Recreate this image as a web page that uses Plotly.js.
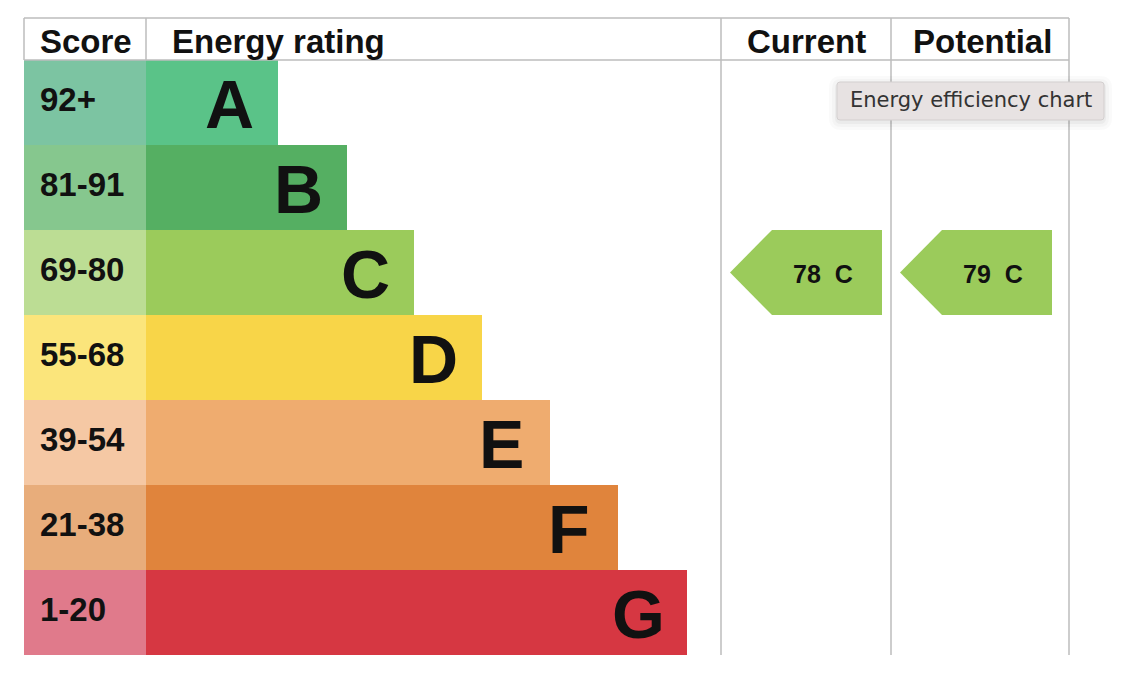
<!DOCTYPE html>
<html>
<head>
<meta charset="utf-8">
<script src="https://cdn.plot.ly/plotly-3.0.1.min.js"></script>
<style>
  html, body { margin: 0; padding: 0; background: #ffffff; }
  #chart { width: 1138px; height: 698px; }
</style>
</head>
<body>
<div id="chart"></div>
<script>
// ---------- data ----------
const ratings = ['A', 'B', 'C', 'D', 'E', 'F', 'G'];
const scoreRanges = ['92+', '81-91', '69-80', '55-68', '39-54', '21-38', '1-20'];
const bandMin = [92, 81, 69, 55, 39, 21, 1];
const bandLengths = [132, 201, 268, 336, 404, 472, 541];
const bandColors = ['#5ac388', '#55af62', '#9bcb5b', '#f8d548', '#efac6f', '#e0843c', '#d63742'];
const scoreColors = ['#7cc4a2', '#86c78e', '#bcdd94', '#fbe57b', '#f5c8a4', '#e8ad7b', '#e07a8b'];
const headers = ['Score', 'Energy rating', 'Current', 'Potential'];
const currentScore = 78;
const potentialScore = 79;
const tooltipText = 'Energy efficiency chart';

// ---------- layout geometry (pixels) ----------
const W = 1138, H = 698;
const ROW0 = 102.5, ROWH = 85;           // centre of first row, row height
const tableL = 24, scoreR = 146, curL = 721, potL = 891, tableR = 1069;
const headTop = 18, headBot = 60, tableBot = 655;
const lineCol = '#bdbdbd';
const FONT = 'Liberation Sans, Arial, Helvetica, sans-serif';

function rowOf(score) {
  for (let i = 0; i < bandMin.length; i++) if (score >= bandMin[i]) return i;
  return bandMin.length - 1;
}
const yOfPix = p => (p - ROW0) / ROWH;
const px = x => x / W;
const py = y => 1 - y / H;

const rows = ratings.map((_, i) => i);

const traces = [];
// score cells
traces.push({
  type: 'bar', orientation: 'h', y: rows, x: rows.map(() => scoreR - tableL), base: tableL,
  width: 1, marker: { color: scoreColors, line: { width: 0 } }, hoverinfo: 'skip', showlegend: false
});
// rating bands
traces.push({
  type: 'bar', orientation: 'h', y: rows, x: bandLengths, base: scoreR,
  width: 1, marker: { color: bandColors, line: { width: 0 } }, hoverinfo: 'skip', showlegend: false
});

// arrows
function arrow(score, colL, colR) {
  const r = rowOf(score);
  const tip = colL + 9, shoulder = colL + 51, right = colR - 9;
  return {
    type: 'scatter', mode: 'lines',
    x: [tip, shoulder, right, right, shoulder, tip],
    y: [r, r - 0.5, r - 0.5, r + 0.5, r + 0.5, r],
    fill: 'toself', fillcolor: bandColors[r], line: { width: 0, color: bandColors[r] },
    hoverinfo: 'skip', showlegend: false
  };
}
traces.push(arrow(currentScore, curL, potL));
traces.push(arrow(potentialScore, potL, tableR - 8));

const annotations = [];
// header texts
annotations.push({ x: 38, y: yOfPix(41), text: '<b>' + headers[0] + '</b>', xanchor: 'left', yanchor: 'middle', showarrow: false, font: { family: FONT, size: 33, color: '#111' } });
annotations.push({ x: 170, y: yOfPix(41), text: '<b>' + headers[1] + '</b>', xanchor: 'left', yanchor: 'middle', showarrow: false, font: { family: FONT, size: 33, color: '#111' } });
annotations.push({ x: (curL + potL) / 2, y: yOfPix(41), text: '<b>' + headers[2] + '</b>', xanchor: 'center', yanchor: 'middle', showarrow: false, font: { family: FONT, size: 33, color: '#111' } });
annotations.push({ x: (potL + tableR) / 2 + 2, y: yOfPix(41), text: '<b>' + headers[3] + '</b>', xanchor: 'center', yanchor: 'middle', showarrow: false, font: { family: FONT, size: 33, color: '#111' } });

// score labels and band letters
rows.forEach(i => {
  annotations.push({ x: 38, y: i - 0.03, text: '<b>' + scoreRanges[i] + '</b>', xanchor: 'left', yanchor: 'middle', showarrow: false, font: { family: FONT, size: 33, color: '#111' } });
  annotations.push({ x: scoreR + bandLengths[i] - 49, y: i + 0.02, text: '<b>' + ratings[i] + '</b>', xanchor: 'center', yanchor: 'middle', showarrow: false, font: { family: FONT, size: 68, color: '#111' } });
});

// arrow labels
function arrowLabel(score, right) {
  const r = rowOf(score);
  return { x: right - 59, y: r + 0.02, text: '<b>' + score + '  ' + ratings[r] + '</b>', xanchor: 'center', yanchor: 'middle', showarrow: false, font: { family: FONT, size: 25, color: '#111' } };
}
annotations.push(arrowLabel(currentScore, potL - 9));
annotations.push(arrowLabel(potentialScore, tableR - 17));

// tooltip text
annotations.push({ x: 971, y: yOfPix(100), text: tooltipText, xanchor: 'center', yanchor: 'middle', showarrow: false, font: { family: 'DejaVu Sans, Open Sans, sans-serif', size: 21, color: '#333333' } });

// ---------- shapes (grid lines + tooltip box) ----------
function line(x0, y0, x1, y1) {
  return { type: 'line', xref: 'paper', yref: 'paper', x0: px(x0), y0: py(y0), x1: px(x1), y1: py(y1), line: { color: lineCol, width: 1.5 }, layer: 'above' };
}
const shapes = [
  line(tableL, headTop, tableR, headTop),
  line(tableL, headBot, tableR, headBot),
  line(tableL, headTop, tableL, headBot),
  line(scoreR, headTop, scoreR, headBot),
  line(curL, headTop, curL, tableBot),
  line(potL, headTop, potL, tableBot),
  line(tableR, headTop, tableR, tableBot)
];
function roundRect(x0, y0, x1, y1, r) {
  const X = v => px(v), Y = v => py(v);
  return 'M' + X(x0 + r) + ',' + Y(y0) + ' L' + X(x1 - r) + ',' + Y(y0) +
    ' Q' + X(x1) + ',' + Y(y0) + ' ' + X(x1) + ',' + Y(y0 + r) +
    ' L' + X(x1) + ',' + Y(y1 - r) +
    ' Q' + X(x1) + ',' + Y(y1) + ' ' + X(x1 - r) + ',' + Y(y1) +
    ' L' + X(x0 + r) + ',' + Y(y1) +
    ' Q' + X(x0) + ',' + Y(y1) + ' ' + X(x0) + ',' + Y(y1 - r) +
    ' L' + X(x0) + ',' + Y(y0 + r) +
    ' Q' + X(x0) + ',' + Y(y0) + ' ' + X(x0 + r) + ',' + Y(y0) + ' Z';
}
// soft shadow
[[8, 0.018], [5, 0.025], [2, 0.035]].forEach(([s, a]) => {
  shapes.push({ type: 'path', xref: 'paper', yref: 'paper', path: roundRect(837 - s, 82 - s + 2, 1104 + s, 120 + s + 2, 4 + s), fillcolor: 'rgba(0,0,0,' + a + ')', line: { width: 0 }, layer: 'above' });
});
shapes.push({ type: 'path', xref: 'paper', yref: 'paper', path: roundRect(837, 82, 1104, 120, 3), fillcolor: '#e7e2e2', line: { color: '#d3cfcf', width: 1 }, layer: 'above' });

const layout = {
  width: W, height: H,
  margin: { l: 0, r: 0, t: 0, b: 0, pad: 0 },
  paper_bgcolor: '#ffffff', plot_bgcolor: '#ffffff',
  barmode: 'overlay', bargap: 0,
  xaxis: { range: [0, W], visible: false, fixedrange: true },
  yaxis: { range: [(H - ROW0) / ROWH, (0 - ROW0) / ROWH], visible: false, fixedrange: true },
  showlegend: false,
  annotations: annotations,
  shapes: shapes
};

Plotly.newPlot('chart', traces, layout, { staticPlot: true, displayModeBar: false });
</script>
</body>
</html>
